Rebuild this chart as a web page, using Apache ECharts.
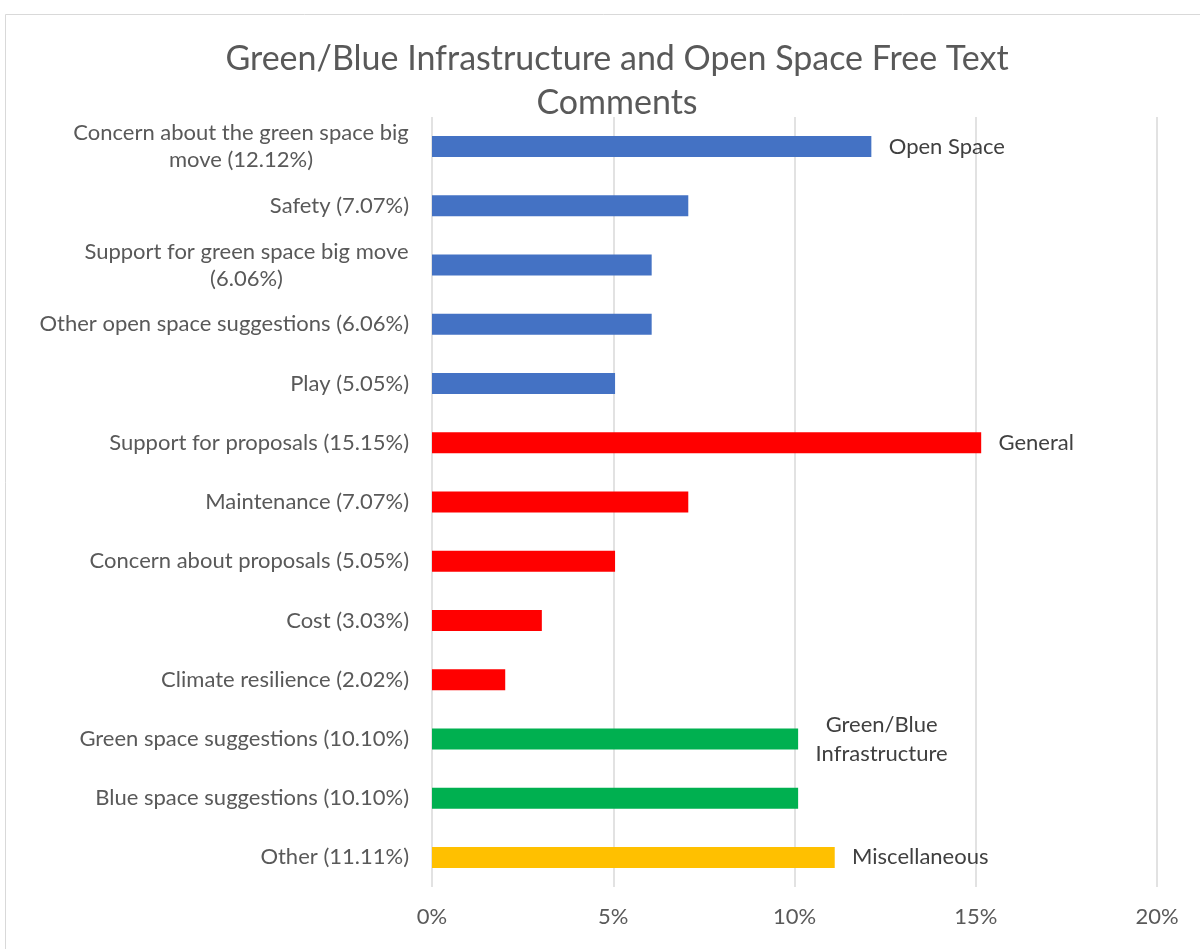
<!DOCTYPE html>
<html>
<head>
<meta charset="utf-8">
<script src="https://cdn.jsdelivr.net/npm/echarts@6/dist/echarts.min.js"></script>
<style>html,body{margin:0;padding:0;background:#fff;}#c{width:1200px;height:949px;}</style>
</head>
<body>
<div id="c"></div>
<script>
const categories = [
  'Concern about the green space big\nmove (12.12%)',
  'Safety (7.07%)',
  'Support for green space big move\n(6.06%)',
  'Other open space suggestions (6.06%)',
  'Play (5.05%)',
  'Support for proposals (15.15%)',
  'Maintenance (7.07%)',
  'Concern about proposals (5.05%)',
  'Cost (3.03%)',
  'Climate resilience (2.02%)',
  'Green space suggestions (10.10%)',
  'Blue space suggestions (10.10%)',
  'Other (11.11%)'
];
const values = [12.12, 7.07, 6.06, 6.06, 5.05, 15.15, 7.07, 5.05, 3.03, 2.02, 10.10, 10.10, 11.11];
const groups = ['Open Space','Open Space','Open Space','Open Space','Open Space',
  'General','General','General','General','General',
  'Green/Blue Infrastructure','Green/Blue Infrastructure','Miscellaneous'];
const groupColors = {
  'Open Space': '#4472C4',
  'General': '#FF0000',
  'Green/Blue Infrastructure': '#00B050',
  'Miscellaneous': '#FFC000'
};
const groupLabels = ['Open Space','','','','','General','','','','','Green/Blue\nInfrastructure','','Miscellaneous'];
const xTicks = [0, 5, 10, 15, 20];

const FONT = 'Lato, "Liberation Sans", sans-serif';
const FS = 22;
const cnv = document.createElement('canvas').getContext('2d');
cnv.font = FS + 'px ' + FONT;
const widthOf = s => Math.ceil(Math.max(...s.split('\n').map(l => cnv.measureText(l).width)));

const axisRich = {};
categories.forEach((c, i) => {
  if (c.indexOf('\n') >= 0) {
    axisRich['c' + i] = { width: widthOf(c), align: 'center', fontSize: FS, color: '#595959', fontFamily: FONT, lineHeight: 27 };
  }
});
const labelRich = {};
groupLabels.forEach((g, i) => {
  if (g) labelRich['g' + i] = { width: widthOf(g), align: 'center', fontSize: FS, color: '#404040', fontFamily: FONT, lineHeight: 29 };
});

const chart = echarts.init(document.getElementById('c'));
chart.setOption({
  animation: false,
  backgroundColor: '#fff',
  graphic: [{
    type: 'rect', left: 3, top: 12, z: -10,
    shape: { width: 1220, height: 960 },
    style: { fill: 'none', stroke: '#D9D9D9', lineWidth: 1 }
  }],
  title: {
    text: 'Green/Blue Infrastructure and Open Space Free Text\nComments',
    left: 612, textAlign: 'center', top: 32,
    textStyle: { fontFamily: FONT, fontSize: 34, fontWeight: 'normal', color: '#595959', lineHeight: 44 }
  },
  grid: { left: 432, right: 43, top: 117, bottom: 62, containLabel: false },
  xAxis: {
    type: 'value', min: 0, max: 20, interval: 5,
    axisLine: { show: false }, axisTick: { show: false },
    splitLine: { show: true, lineStyle: { color: '#D9D9D9', width: 1.5 } },
    axisLabel: { formatter: v => xTicks.includes(v) ? v + '%' : '', fontFamily: FONT, fontSize: FS, color: '#595959', margin: 19 }
  },
  yAxis: {
    type: 'category', data: categories, inverse: true,
    axisLine: { show: false }, axisTick: { show: false },
    axisLabel: {
      fontFamily: FONT, fontSize: FS, color: '#595959', margin: 23, lineHeight: 27,
      formatter: v => {
        const idx = categories.indexOf(v);
        if (v.indexOf('\n') >= 0) return v.split('\n').map(l => '{c' + idx + '|' + l + '}').join('\n');
        return v;
      },
      rich: axisRich
    }
  },
  series: [{
    type: 'bar', barWidth: 21,
    data: values.map((v, i) => ({ value: v, itemStyle: { color: groupColors[groups[i]] } })),
    label: {
      show: true, position: 'right', distance: 17,
      fontFamily: FONT, fontSize: FS, color: '#404040',
      formatter: p => {
        const g = groupLabels[p.dataIndex];
        if (!g) return '';
        return g.split('\n').map(l => '{g' + p.dataIndex + '|' + l + '}').join('\n');
      },
      rich: labelRich
    }
  }]
});
</script>
</body>
</html>
